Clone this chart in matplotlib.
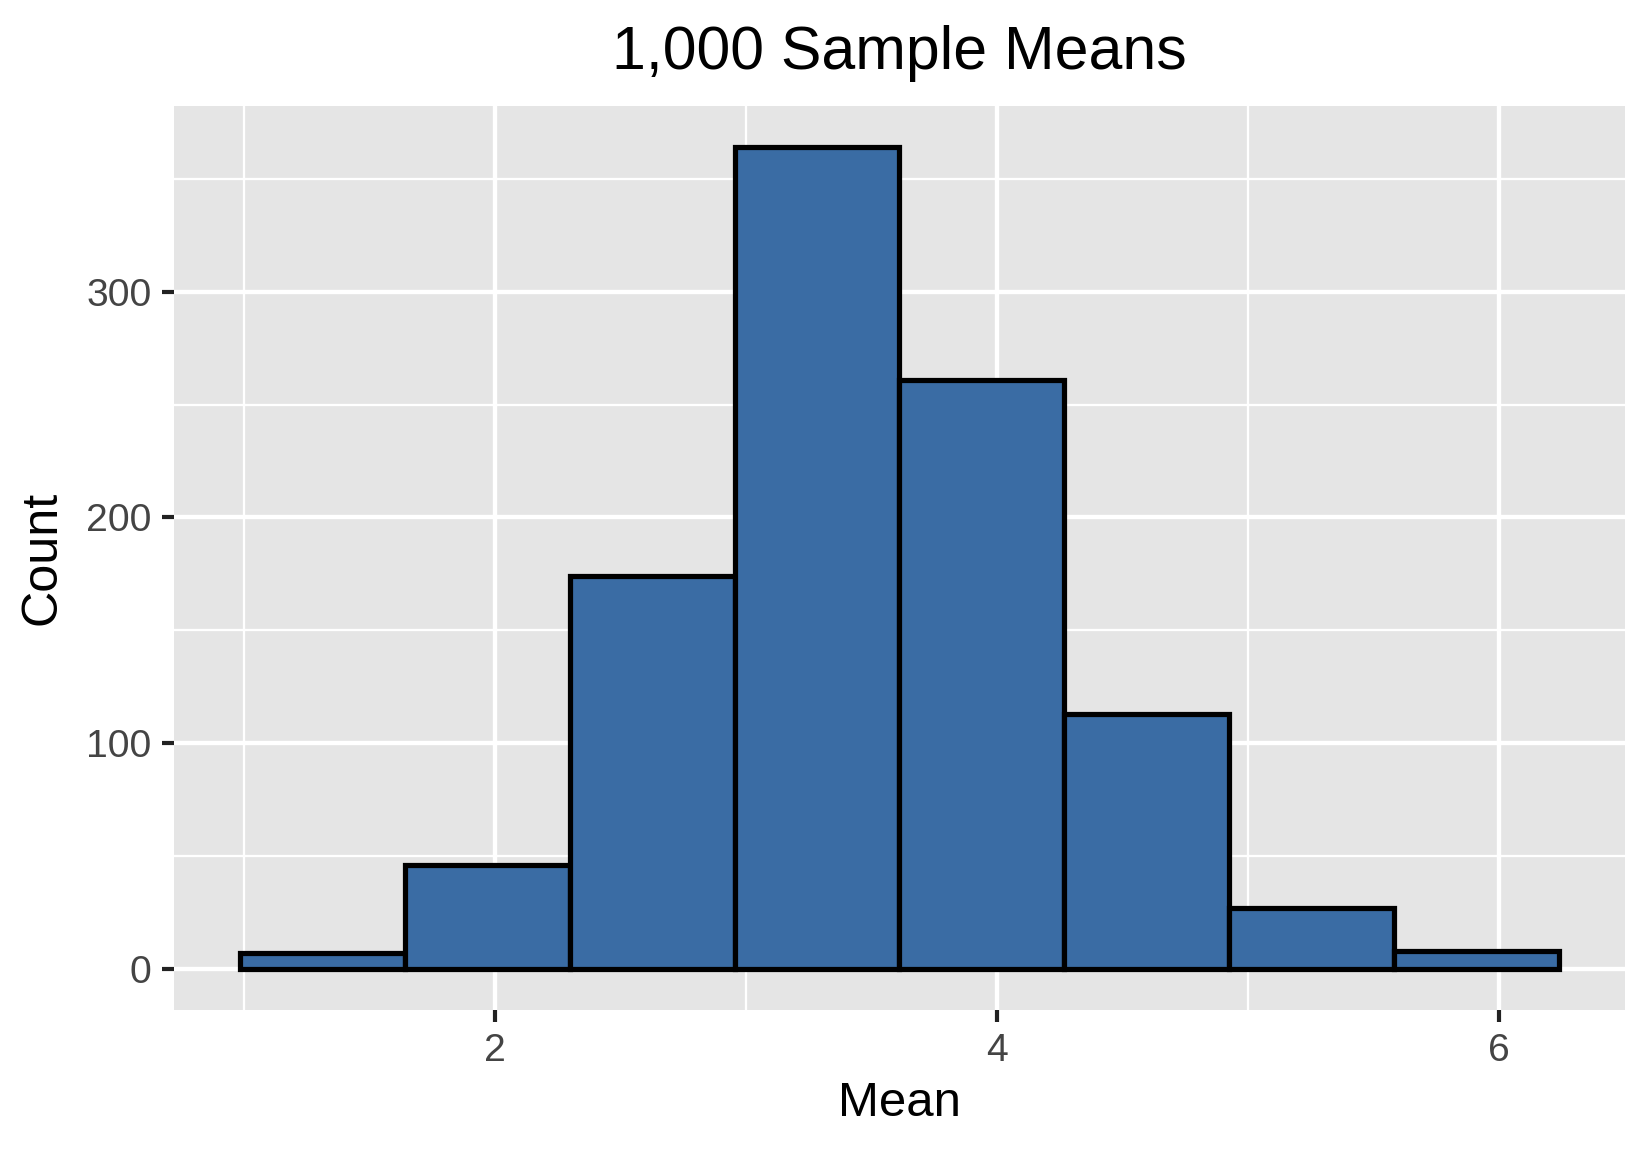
import numpy as np
import matplotlib
matplotlib.use("Agg")
import matplotlib.pyplot as plt

plt.rcParams['font.family'] = ['Liberation Sans', 'DejaVu Sans']

# histogram bins and counts
bin_edges = [0.985, 1.642, 2.298, 2.955, 3.612, 4.269, 4.925, 5.582, 6.239]
counts = [7, 46, 174, 364, 261, 113, 27, 8]

x_major = [2, 4, 6]
x_minor = [1, 3, 5]
y_major = [0, 100, 200, 300]
y_minor = [50, 150, 250, 350]

fig = plt.figure(figsize=(5.5, 3.85), dpi=300)
ax = fig.add_axes([0.1055, 0.1255, 0.8793, 0.7827])

ax.set_facecolor('#E5E5E5')
for s in ax.spines.values():
    s.set_visible(False)

# grid lines, ggplot style
for v in x_minor:
    ax.axvline(v, color='white', lw=0.55, zorder=0)
for v in y_minor:
    ax.axhline(v, color='white', lw=0.55, zorder=0)
for v in x_major:
    ax.axvline(v, color='white', lw=1.05, zorder=0)
for v in y_major:
    ax.axhline(v, color='white', lw=1.05, zorder=0)

widths = np.diff(bin_edges)
ax.bar(bin_edges[:-1], counts, width=widths, align='edge',
       color='#3A6CA4', edgecolor='black', linewidth=1.25, zorder=2)

lo, hi = bin_edges[0], bin_edges[-1]
pad = (hi - lo) * 0.05
ax.set_xlim(lo - pad, hi + pad)
ypad = max(counts) * 0.05
ax.set_ylim(-ypad, max(counts) + ypad)

ax.set_xticks(x_major)
ax.set_yticks(y_major)
ax.tick_params(axis='both', length=2.9, width=1.0, color='#222222',
               labelcolor='#444444', labelsize=9.4, pad=2.5)

ax.set_title('1,000 Sample Means', fontsize=14.6, pad=9)
ax.set_xlabel('Mean', fontsize=11.8, labelpad=3)
ax.set_ylabel('Count', fontsize=12.1, labelpad=5)

fig.savefig('out.png', dpi=300)
